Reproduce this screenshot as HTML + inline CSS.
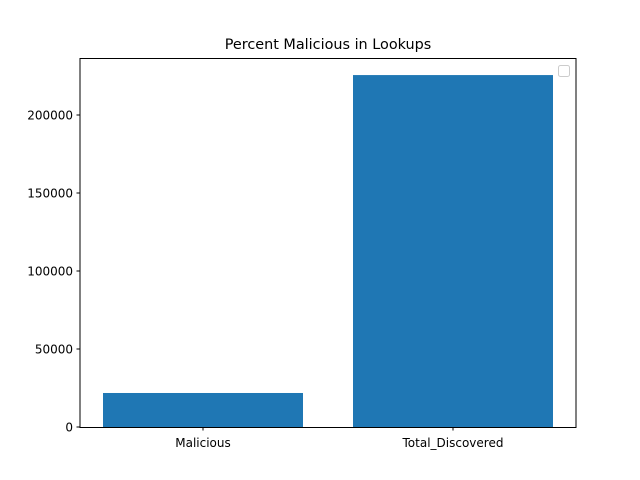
<!DOCTYPE html>
<html><head><meta charset="utf-8"><style>
body{margin:0;background:#fff;}
svg{display:block;font-family:"DejaVu Sans","Liberation Sans",sans-serif;}
</style></head><body>
<svg id="chart" width="640" height="480">
<rect width="640" height="480" fill="#fff"/>
<text x="328" y="49" font-size="14.4" text-anchor="middle">Percent Malicious in Lookups</text>
<g id="bars"></g>
<g id="yticks"></g>
<g id="xticks"></g>
<rect x="80" y="58.5" width="496" height="369" fill="none" stroke="#000" stroke-width="1"/>
<rect x="558.5" y="65.5" width="11" height="11" rx="2" fill="#fff" stroke="#ccc"/>
</svg>
<script>
const categories = ["Malicious", "Total_Discovered"];
const values = [21800, 225600];
const yTicks = [0, 50000, 100000, 150000, 200000];
const ns = "http://www.w3.org/2000/svg";
const L = 80, R = 576, T = 58, B = 427;
const unit = (R - L) / (categories.length - 1 + 0.984);
const x0 = L + 0.492 * unit;
function y(v){ return B - v / 200000 * (B - 115); }
function x(i){ return x0 + i * unit; }
const bw = unit * 0.8;
const bars = document.getElementById('bars');
const xt = document.getElementById('xticks');
categories.forEach((c, i) => {
  const r = document.createElementNS(ns, 'rect');
  r.setAttribute('x', x(i) - bw / 2);
  r.setAttribute('y', y(values[i]));
  r.setAttribute('width', bw);
  r.setAttribute('height', B - y(values[i]));
  r.setAttribute('fill', '#1f77b4');
  
  
  bars.appendChild(r);
  const ln = document.createElementNS(ns, 'line');
  ln.setAttribute('x1', x(i)); ln.setAttribute('x2', x(i));
  ln.setAttribute('y1', B); ln.setAttribute('y2', B + 3.5);
  ln.setAttribute('stroke', '#000');
  
  
  xt.appendChild(ln);
  const t = document.createElementNS(ns, 'text');
  t.setAttribute('x', x(i)); t.setAttribute('y', B + 20);
  t.setAttribute('font-size', '12'); t.setAttribute('text-anchor', 'middle');
  t.textContent = c;
  
  
  xt.appendChild(t);
});
const yt = document.getElementById('yticks');
yTicks.forEach(v => {
  const ln = document.createElementNS(ns, 'line');
  ln.setAttribute('x1', L - 3.5); ln.setAttribute('x2', L);
  ln.setAttribute('y1', y(v)); ln.setAttribute('y2', y(v));
  ln.setAttribute('stroke', '#000');
  
  
  yt.appendChild(ln);
  const t = document.createElementNS(ns, 'text');
  t.setAttribute('x', L - 7); t.setAttribute('y', y(v) + 4.5);
  t.setAttribute('font-size', '12'); t.setAttribute('text-anchor', 'end');
  t.textContent = v;
  
  
  yt.appendChild(t);
});
</script>
</body></html>
